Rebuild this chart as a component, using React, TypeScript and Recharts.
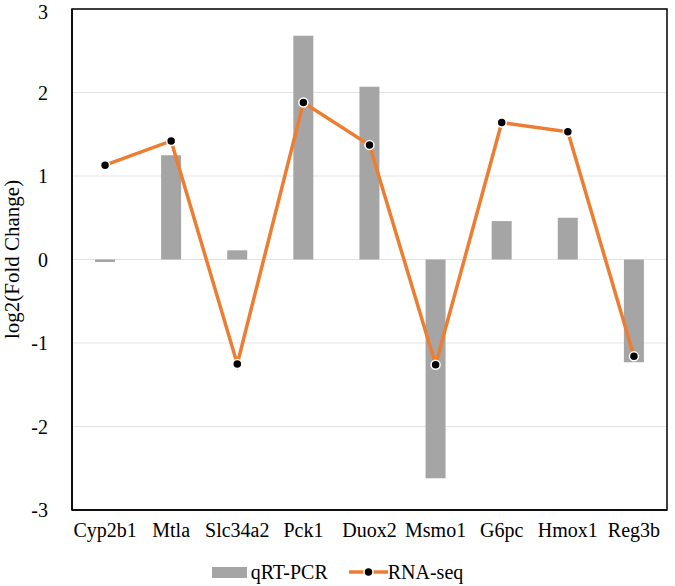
import React from 'react';
import {
  ComposedChart,
  Bar,
  Line,
  XAxis,
  YAxis,
  CartesianGrid,
  Legend,
  ReferenceArea,
} from 'recharts';

const genes = ['Cyp2b1', 'Mtla', 'Slc34a2', 'Pck1', 'Duox2', 'Msmo1', 'G6pc', 'Hmox1', 'Reg3b'];
const qrtPcr = [-0.03, 1.25, 0.11, 2.68, 2.07, -2.62, 0.46, 0.5, -1.23];
const rnaSeq = [1.13, 1.42, -1.25, 1.88, 1.37, -1.26, 1.64, 1.53, -1.16];
const yTicks = [-3, -2, -1, 0, 1, 2, 3];

const data = genes.map((g, i) => ({ gene: g, qpcr: qrtPcr[i], rna: rnaSeq[i] }));

const FONT = '"Liberation Serif", "Times New Roman", serif';
const BAR = '#a5a5a5';
const ORANGE = '#ed7d31';

const LegendContent = () => (
  <div
    style={{
      display: 'flex',
      justifyContent: 'center',
      alignItems: 'center',
      fontFamily: FONT,
      fontSize: 20,
      color: '#000',
      lineHeight: '22px',
    }}
  >
    <span style={{ display: 'inline-block', width: 35, height: 11, background: BAR, marginRight: 4 }} />
    <span>qRT-PCR</span>
    <svg width={39} height={12} style={{ marginLeft: 21 }}>
      <line x1={0} y1={6} x2={39} y2={6} stroke={ORANGE} strokeWidth={3.5} />
      <circle cx={19.5} cy={6} r={4.5} fill="#000" stroke="#fff" strokeWidth={1.5} />
    </svg>
    <span>RNA-seq</span>
  </div>
);

export default function App() {
  return (
    <div style={{ position: 'absolute', left: 0, top: 0, background: '#fff' }}>
      <ComposedChart
        width={675}
        height={586}
        data={data}
        margin={{ top: 9, right: 8, bottom: 46, left: 0 }}
      >
        <CartesianGrid vertical={false} stroke="#e3e3e3" strokeWidth={1} />
        <XAxis
          dataKey="gene"
          tickLine={false}
          tickSize={0}
          tickMargin={13}
          axisLine={{ stroke: '#000', strokeWidth: 1.5 }}
          tick={{ fill: '#000', fontFamily: FONT, fontSize: 20 }}
          interval={0}
        />
        <YAxis
          domain={[-3, 3]}
          ticks={yTicks}
          width={72}
          tickLine={false}
          tickSize={0}
          tickMargin={24}
          axisLine={{ stroke: '#000', strokeWidth: 1.5 }}
          tick={{ fill: '#000', fontFamily: FONT, fontSize: 20 }}
          label={{
            value: 'log2(Fold Change)',
            angle: -90,
            position: 'insideLeft',
            offset: 12,
            style: { textAnchor: 'middle', fontFamily: FONT, fontSize: 21, fill: '#000' },
          }}
        />
        <Bar dataKey="qpcr" name="qRT-PCR" fill={BAR} barSize={20} isAnimationActive={false} />
        <Line
          type="linear"
          dataKey="rna"
          name="RNA-seq"
          stroke={ORANGE}
          strokeWidth={3.5}
          dot={{ r: 4.5, fill: '#000', stroke: '#fff', strokeWidth: 1.5 }}
          activeDot={false}
          isAnimationActive={false}
        />
        <ReferenceArea y1={-3} y2={3} fill="none" stroke="#000" strokeWidth={1.5} ifOverflow="visible" />
        <Legend
          verticalAlign="middle"
          align="center"
          content={LegendContent}
          wrapperStyle={{ top: 561, left: 0, width: 675 }}
        />
      </ComposedChart>
    </div>
  );
}
